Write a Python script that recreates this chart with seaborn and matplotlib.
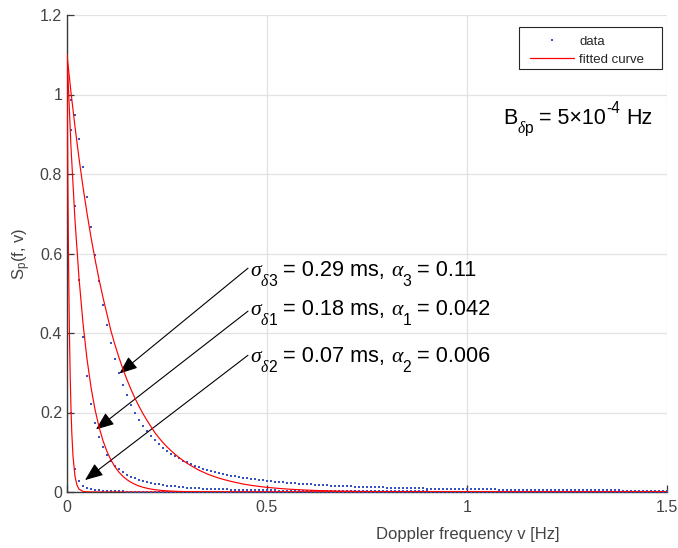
import numpy as np
import pandas as pd
import matplotlib
matplotlib.use("Agg")
import matplotlib.pyplot as plt
import seaborn as sns
from matplotlib.lines import Line2D
from matplotlib.patches import Rectangle
from matplotlib.transforms import offset_copy

# Doppler frequency sample grid [Hz]
freq = np.linspace(0.0, 1.5, 151)

# Measured Doppler power spectra (normalised), one per delay-spread case
data_s3 = [
    1.0, 0.9863, 0.9475, 0.8892, 0.8187, 0.7429, 0.6674, 0.5959, 0.5303, 0.4715,
    0.4194, 0.3739, 0.3341, 0.2995, 0.2693, 0.2431, 0.2201, 0.2000, 0.1823, 0.1668,
    0.1530, 0.1408, 0.1299, 0.1202, 0.1115, 0.1036, 0.0966, 0.0902, 0.0844, 0.0791,
    0.0743, 0.0699, 0.0659, 0.0622, 0.0588, 0.0557, 0.0528, 0.0501, 0.0477, 0.0453,
    0.0432, 0.0412, 0.0393, 0.0376, 0.0360, 0.0344, 0.0330, 0.0317, 0.0304, 0.0292,
    0.0281, 0.0270, 0.0260, 0.0251, 0.0242, 0.0233, 0.0225, 0.0218, 0.0210, 0.0203,
    0.0197, 0.0190, 0.0184, 0.0179, 0.0173, 0.0168, 0.0163, 0.0158, 0.0154, 0.0149,
    0.0145, 0.0141, 0.0137, 0.0134, 0.0130, 0.0127, 0.0124, 0.0120, 0.0117, 0.0114,
    0.0112, 0.0109, 0.0106, 0.0104, 0.0101, 0.0099, 0.0097, 0.0095, 0.0092, 0.0090,
    0.0088, 0.0086, 0.0085, 0.0083, 0.0081, 0.0079, 0.0078, 0.0076, 0.0075, 0.0073,
    0.0072, 0.0070, 0.0069, 0.0068, 0.0066, 0.0065, 0.0064, 0.0063, 0.0062, 0.0060,
    0.0059, 0.0058, 0.0057, 0.0056, 0.0055, 0.0054, 0.0053, 0.0053, 0.0052, 0.0051,
    0.0050, 0.0049, 0.0048, 0.0048, 0.0047, 0.0046, 0.0045, 0.0045, 0.0044, 0.0043,
    0.0043, 0.0042, 0.0041, 0.0041, 0.0040, 0.0039, 0.0039, 0.0038, 0.0038, 0.0037,
    0.0037, 0.0036, 0.0036, 0.0035, 0.0035, 0.0034, 0.0034, 0.0033, 0.0033, 0.0032,
    0.0032,
]
data_s1 = [
    1.0, 0.9110, 0.7191, 0.5322, 0.3902, 0.2906, 0.2215, 0.1729, 0.1379, 0.1122,
    0.0929, 0.0780, 0.0664, 0.0571, 0.0497, 0.0435, 0.0385, 0.0342, 0.0306, 0.0276,
    0.0250, 0.0227, 0.0207, 0.0190, 0.0175, 0.0161, 0.0149, 0.0139, 0.0129, 0.0120,
    0.0112, 0.0105, 0.0099, 0.0093, 0.0088, 0.0083, 0.0078, 0.0074, 0.0070, 0.0067,
    0.0064, 0.0061, 0.0058, 0.0055, 0.0053, 0.0050, 0.0048, 0.0046, 0.0044, 0.0042,
    0.0041, 0.0039, 0.0038, 0.0036, 0.0035, 0.0034, 0.0033, 0.0031, 0.0030, 0.0029,
    0.0028, 0.0027, 0.0027, 0.0026, 0.0025, 0.0024, 0.0023, 0.0023, 0.0022, 0.0021,
    0.0021, 0.0020, 0.0020, 0.0019, 0.0019, 0.0018, 0.0018, 0.0017, 0.0017, 0.0016,
    0.0016, 0.0016, 0.0015, 0.0015, 0.0014, 0.0014, 0.0014, 0.0014, 0.0013, 0.0013,
    0.0013, 0.0012, 0.0012, 0.0012, 0.0012, 0.0011, 0.0011, 0.0011, 0.0011, 0.0010,
    0.0010, 0.0010, 0.0010, 0.0010, 0.0009, 0.0009, 0.0009, 0.0009, 0.0009, 0.0009,
    0.0008, 0.0008, 0.0008, 0.0008, 0.0008, 0.0008, 0.0008, 0.0007, 0.0007, 0.0007,
    0.0007, 0.0007, 0.0007, 0.0007, 0.0007, 0.0007, 0.0006, 0.0006, 0.0006, 0.0006,
    0.0006, 0.0006, 0.0006, 0.0006, 0.0006, 0.0006, 0.0006, 0.0005, 0.0005, 0.0005,
    0.0005, 0.0005, 0.0005, 0.0005, 0.0005, 0.0005, 0.0005, 0.0005, 0.0005, 0.0005,
    0.0005,
]
data_s2 = [
    1.0, 0.2000, 0.0588, 0.0270, 0.0154, 0.0099, 0.0069, 0.0051, 0.0039, 0.0031,
    0.0025, 0.0021, 0.0017, 0.0015, 0.0013, 0.0011, 0.0010, 0.0009, 0.0008, 0.0007,
    0.0006, 0.0006, 0.0005, 0.0005, 0.0004, 0.0004, 0.0004, 0.0003, 0.0003, 0.0003,
    0.0003, 0.0003, 0.0002, 0.0002, 0.0002, 0.0002, 0.0002, 0.0002, 0.0002, 0.0002,
    0.0002, 0.0001, 0.0001, 0.0001, 0.0001, 0.0001, 0.0001, 0.0001, 0.0001, 0.0001,
    0.0001, 0.0001, 0.0001, 0.0001, 0.0001, 0.0001, 0.0001, 0.0001, 0.0001, 0.0001,
    0.0001, 0.0001, 0.0001, 0.0001, 0.0001, 0.0001, 0.0001, 0.0001, 0.0001, 0.0001,
    0.0001, 0.0, 0.0, 0.0, 0.0, 0.0, 0.0, 0.0, 0.0, 0.0,
    0.0, 0.0, 0.0, 0.0, 0.0, 0.0, 0.0, 0.0, 0.0, 0.0,
    0.0, 0.0, 0.0, 0.0, 0.0, 0.0, 0.0, 0.0, 0.0, 0.0,
    0.0, 0.0, 0.0, 0.0, 0.0, 0.0, 0.0, 0.0, 0.0, 0.0,
    0.0, 0.0, 0.0, 0.0, 0.0, 0.0, 0.0, 0.0, 0.0, 0.0,
    0.0, 0.0, 0.0, 0.0, 0.0, 0.0, 0.0, 0.0, 0.0, 0.0,
    0.0, 0.0, 0.0, 0.0, 0.0, 0.0, 0.0, 0.0, 0.0, 0.0,
    0.0, 0.0, 0.0, 0.0, 0.0, 0.0, 0.0, 0.0, 0.0, 0.0,
    0.0,
]

# Fitted curves on the same grid
fit_s3 = [
    1.1000, 1.0053, 0.9188, 0.8397, 0.7674, 0.7014, 0.6410, 0.5859, 0.5354, 0.4893,
    0.4472, 0.4047, 0.3698, 0.3380, 0.3089, 0.2823, 0.2580, 0.2358, 0.2155, 0.1970,
    0.1800, 0.1645, 0.1489, 0.1361, 0.1243, 0.1136, 0.1039, 0.0949, 0.0868, 0.0793,
    0.0725, 0.0662, 0.0605, 0.0548, 0.0501, 0.0457, 0.0418, 0.0382, 0.0349, 0.0319,
    0.0292, 0.0267, 0.0244, 0.0223, 0.0201, 0.0184, 0.0168, 0.0154, 0.0141, 0.0128,
    0.0117, 0.0107, 0.0098, 0.0090, 0.0082, 0.0074, 0.0068, 0.0062, 0.0057, 0.0052,
    0.0047, 0.0043, 0.0039, 0.0036, 0.0033, 0.0030, 0.0027, 0.0025, 0.0023, 0.0021,
    0.0019, 0.0017, 0.0016, 0.0015, 0.0013, 0.0012, 0.0011, 0.0010, 0.0009, 0.0008,
    0.0008, 0.0007, 0.0006, 0.0006, 0.0005, 0.0005, 0.0004, 0.0004, 0.0004, 0.0003,
    0.0003, 0.0003, 0.0003, 0.0002, 0.0002, 0.0002, 0.0002, 0.0002, 0.0002, 0.0001,
    0.0001, 0.0001, 0.0001, 0.0001, 0.0001, 0.0001, 0.0001, 0.0001, 0.0001, 0.0001,
    0.0, 0.0, 0.0, 0.0, 0.0, 0.0, 0.0, 0.0, 0.0, 0.0,
    0.0, 0.0, 0.0, 0.0, 0.0, 0.0, 0.0, 0.0, 0.0, 0.0,
    0.0, 0.0, 0.0, 0.0, 0.0, 0.0, 0.0, 0.0, 0.0, 0.0,
    0.0, 0.0, 0.0, 0.0, 0.0, 0.0, 0.0, 0.0, 0.0, 0.0,
    0.0,
]
fit_s1 = [
    1.1000, 0.8669, 0.6833, 0.5385, 0.4244, 0.3345, 0.2636, 0.2078, 0.1637, 0.1291,
    0.1017, 0.0802, 0.0632, 0.0498, 0.0392, 0.0309, 0.0244, 0.0192, 0.0151, 0.0119,
    0.0094, 0.0074, 0.0058, 0.0046, 0.0036, 0.0029, 0.0023, 0.0018, 0.0014, 0.0011,
    0.0009, 0.0007, 0.0005, 0.0004, 0.0003, 0.0003, 0.0002, 0.0002, 0.0001, 0.0001,
    0.0001, 0.0, 0.0, 0.0, 0.0, 0.0, 0.0, 0.0, 0.0, 0.0,
    0.0, 0.0, 0.0, 0.0, 0.0, 0.0, 0.0, 0.0, 0.0, 0.0,
    0.0, 0.0, 0.0, 0.0, 0.0, 0.0, 0.0, 0.0, 0.0, 0.0,
    0.0, 0.0, 0.0, 0.0, 0.0, 0.0, 0.0, 0.0, 0.0, 0.0,
    0.0, 0.0, 0.0, 0.0, 0.0, 0.0, 0.0, 0.0, 0.0, 0.0,
    0.0, 0.0, 0.0, 0.0, 0.0, 0.0, 0.0, 0.0, 0.0, 0.0,
    0.0, 0.0, 0.0, 0.0, 0.0, 0.0, 0.0, 0.0, 0.0, 0.0,
    0.0, 0.0, 0.0, 0.0, 0.0, 0.0, 0.0, 0.0, 0.0, 0.0,
    0.0, 0.0, 0.0, 0.0, 0.0, 0.0, 0.0, 0.0, 0.0, 0.0,
    0.0, 0.0, 0.0, 0.0, 0.0, 0.0, 0.0, 0.0, 0.0, 0.0,
    0.0, 0.0, 0.0, 0.0, 0.0, 0.0, 0.0, 0.0, 0.0, 0.0,
    0.0,
]
# The narrowest fit falls off within a few hundredths of a hertz, so it is
# sampled more finely near zero
fit2_freq = [0.0, 0.002, 0.004, 0.006, 0.008, 0.010, 0.012, 0.015, 0.020,
             0.025, 0.030, 0.040, 0.050, 0.100, 1.500]
fit_s2 = [1.1000, 0.7882, 0.5648, 0.4047, 0.2900, 0.2078, 0.1489, 0.0903, 0.0392,
          0.0171, 0.0074, 0.0014, 0.0003, 0.0, 0.0]

# Annotation text for each case and where its arrow points (Hz, spectrum value)
case_sigma_sub = ["3", "1", "2"]
case_sigma_val = ["= 0.29 ms,", "= 0.18 ms,", "= 0.07 ms,"]
case_alpha_val = ["= 0.11", "= 0.042", "= 0.006"]
label_pos = [(0.458, 0.543), (0.458, 0.445), (0.458, 0.327)]
arrow_tail = [(0.4525, 0.563), (0.4525, 0.455), (0.4525, 0.344)]
arrow_tip = [(0.131, 0.298), (0.0725, 0.1575), (0.045, 0.030)]

x_ticks = [0, 0.5, 1, 1.5]
x_ticklabels = ["0", "0.5", "1", "1.5"]
y_ticks = [0, 0.2, 0.4, 0.6, 0.8, 1.0, 1.2]
y_ticklabels = ["0", "0.2", "0.4", "0.6", "0.8", "1", "1.2"]

BLUE = "#3553c6"
RED = "#ff0000"
AXIS = "#3a3a3a"
TICKTXT = "#444444"
SANS = "Liberation Sans"
SERIF = "Liberation Serif"

sns.set_theme(style="white")
plt.rcParams.update({
    "font.family": [SANS, "DejaVu Sans"],
    "mathtext.fontset": "custom",
    "mathtext.rm": SANS,
    "mathtext.it": SERIF + ":italic",
    "mathtext.bf": SANS + ":bold",
})

fig = plt.figure(figsize=(6.78, 5.48), dpi=100)
ax = fig.add_axes([67 / 678, 1 - 492 / 548, 600 / 678, 477 / 548])

dots = pd.DataFrame({
    "freq": np.concatenate([freq, freq, freq]),
    "S": data_s3 + data_s1 + data_s2,
    "case": ["s3"] * 151 + ["s1"] * 151 + ["s2"] * 151,
})
fits = pd.DataFrame({
    "freq": np.concatenate([freq, freq, fit2_freq]),
    "S": fit_s3 + fit_s1 + fit_s2,
    "case": ["s3"] * 151 + ["s1"] * 151 + ["s2"] * len(fit_s2),
})

sns.scatterplot(data=dots, x="freq", y="S", ax=ax, color=BLUE, s=2.8,
                linewidth=0, marker="s", legend=False, zorder=3)
sns.lineplot(data=fits, x="freq", y="S", units="case", estimator=None,
             ax=ax, color=RED, linewidth=0.85, legend=False, zorder=4)

ax.set_xlim(0, 1.5)
ax.set_ylim(0, 1.2)
ax.set_xticks(x_ticks)
ax.set_xticklabels(x_ticklabels)
ax.set_yticks(y_ticks)
ax.set_yticklabels(y_ticklabels)

ax.grid(True, color="#e2e2e2", linewidth=0.9)
ax.set_axisbelow(True)
for side in ("top", "right"):
    ax.spines[side].set_visible(False)
for side in ("left", "bottom"):
    ax.spines[side].set_color(AXIS)
    ax.spines[side].set_linewidth(1.0)
ax.tick_params(axis="both", which="major", bottom=True, left=True,
               direction="in", length=5, width=0.9, color=AXIS,
               labelsize=11.5, labelcolor=TICKTXT)
ax.tick_params(axis="y", pad=3.5)
ax.tick_params(axis="x", pad=6)

ax.set_xlabel("Doppler frequency v [Hz]", fontsize=12, color=TICKTXT)
ax.xaxis.set_label_coords(0.6675, -0.074)
ax.set_ylabel(r"S$_\mathregular{p}$(f, v)", fontsize=12, color=TICKTXT)
ax.yaxis.set_label_coords(-0.056, 0.5)

# Legend: entries without a frame, boxed by a separate rectangle
handles = [
    Line2D([], [], linestyle="none", marker="s", markersize=1.5,
           color=BLUE, markeredgewidth=0),
    Line2D([], [], color=RED, linewidth=0.9),
]
ax.add_patch(Rectangle((0.7533, 0.8868), 0.2384, 0.088, transform=ax.transAxes,
                       facecolor="white", edgecolor="#262626", linewidth=0.8,
                       zorder=5))
leg = ax.legend(handles, ["data", "fitted curve"], loc="upper left",
                bbox_to_anchor=(0.7717, 0.957), borderaxespad=0, borderpad=0,
                fontsize=9.5, frameon=False, handlelength=3.35,
                handletextpad=0.4, labelspacing=0.42)
leg.set_zorder(6)

renderer = fig.canvas.get_renderer()


def rich_text(x, y, runs, size):
    """Write a line made of runs (text, kind) starting at data point (x, y).

    kind: 'n' normal sans, 'g' greek, 'sub'/'subg' subscript sans/greek,
    'sup' superscript, 'sp' a word space.
    """
    dx = 0.0
    for s, kind in runs:
        if kind == "sp":
            dx += 0.278 * size
            continue
        scale, dy, fam, style = 1.0, 0.0, SANS, "normal"
        if kind in ("g", "subg"):
            fam, style = SERIF, "italic"
        if kind in ("sub", "subg"):
            scale, dy = 0.72, -0.44
        if kind == "sup":
            scale, dy = 0.72, 0.5
        tr = offset_copy(ax.transData, fig=fig, x=dx, y=dy * size, units="points")
        t = ax.text(x, y, s, transform=tr, fontsize=size * scale, family=fam,
                    style=style, color="black", ha="left", va="baseline")
        dx += t.get_window_extent(renderer).width * 72.0 / fig.dpi


rich_text(1.09, 0.927,
          [("B", "n"), ("\u03b4", "subg"), ("p", "sub"), ("", "sp"),
           ("= 5\u00d710", "n"), ("-4", "sup"), ("", "sp"), ("Hz", "n")],
          15.5)

for sub, sval, aval, pos, tail, tip in zip(case_sigma_sub, case_sigma_val,
                                           case_alpha_val, label_pos,
                                           arrow_tail, arrow_tip):
    rich_text(pos[0], pos[1],
              [("\u03c3", "g"), ("\u03b4", "subg"), (sub, "sub"), ("", "sp"),
               (sval, "n"), ("", "sp"), ("\u03b1", "g"), (sub, "sub"),
               ("", "sp"), (aval, "n")],
              15.7)
    ax.annotate("", xy=tip, xytext=tail,
                arrowprops=dict(arrowstyle="-|>,head_length=1.0,head_width=0.4",
                                color="black", lw=0.8, mutation_scale=11,
                                shrinkA=0, shrinkB=0))

fig.savefig("out.png", dpi=100)
